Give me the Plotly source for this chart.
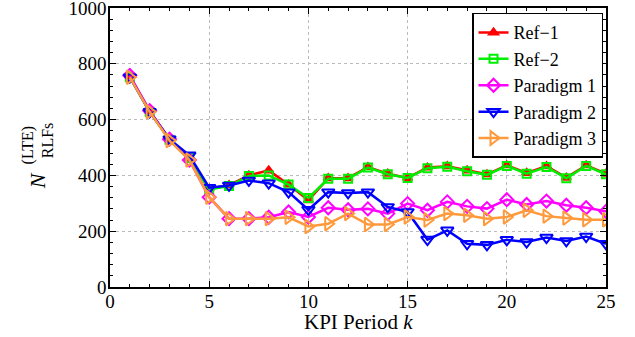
import plotly.graph_objects as go

k = list(range(1, 26))
ref1 = [755, 630, 528, 460, 352, 365, 400, 418, 367, 311, 390, 390, 430, 406, 391, 428, 433, 418, 404, 436, 409, 433, 392, 436, 406]
ref2 = [752, 628, 528, 462, 350, 362, 398, 400, 367, 319, 388, 388, 428, 404, 391, 426, 431, 415, 402, 434, 406, 430, 390, 434, 404]
par1 = [758, 632, 530, 455, 322, 245, 245, 250, 269, 251, 284, 277, 280, 263, 299, 275, 305, 289, 281, 313, 296, 308, 293, 284, 271]
par2 = [752, 628, 530, 472, 356, 364, 382, 372, 340, 277, 340, 337, 340, 287, 269, 170, 203, 155, 151, 169, 161, 177, 165, 181, 155]
par3 = [752, 628, 525, 455, 322, 245, 245, 245, 250, 217, 227, 263, 224, 224, 251, 240, 263, 257, 245, 251, 275, 254, 247, 241, 241]
x_ticks = [0, 5, 10, 15, 20, 25]
y_ticks = [0, 200, 400, 600, 800, 1000]

names = ["Ref−1", "Ref−2", "Paradigm 1", "Paradigm 2", "Paradigm 3"]
series = [ref1, ref2, par1, par2, par3]
colors = ["#FF0000", "#00EE00", "#FF00FF", "#0000FF", "#FF9A3C"]
symbols = ["triangle-up", "square-open", "diamond-open", "triangle-down-open", "triangle-right-open"]
sizes = [8, 8, 10, 11, 12]

FONT = "Liberation Serif"
fig = go.Figure()
for name, y, c, s, sz in zip(names, series, colors, symbols, sizes):
    fig.add_trace(go.Scatter(
        x=k, y=y, name=name, mode="lines+markers",
        line=dict(color=c, width=2.5),
        marker=dict(symbol=s, size=sz, color=c, line=dict(color=c, width=2)),
    ))

axis_common = dict(
    showline=True, linecolor="black", linewidth=1.5, mirror="ticks",
    ticks="inside", ticklen=6, tickcolor="black", tickwidth=1,
    showgrid=True, gridcolor="#bbbbbb", griddash="dot", gridwidth=1,
    zeroline=False, automargin=False, ticklabeloverflow="allow",
    tickfont=dict(family=FONT, size=19, color="black"),
)
fig.update_xaxes(range=[0, 25], tickmode="array", tickvals=x_ticks, ticklabelstandoff=-4,
                 minor=dict(dtick=1, tick0=0, ticks="inside", ticklen=3, tickcolor="black", showgrid=False),
                 **axis_common)
fig.update_yaxes(range=[0, 1000], tickmode="array", tickvals=y_ticks, ticklabelstandoff=-2,
                 minor=dict(dtick=40, tick0=0, ticks="inside", ticklen=3, tickcolor="black", showgrid=False),
                 **axis_common)

ann = dict(xref="paper", yref="paper", showarrow=False, xanchor="center", yanchor="middle")
fig.add_annotation(text="KPI Period <i>k</i>", x=0.5, y=-0.125,
                   font=dict(family=FONT, size=21, color="black"), **ann)
fig.add_annotation(text="<i>N</i>", x=-0.147, y=0.379, textangle=-90,
                   font=dict(family=FONT, size=22, color="black"), **ann)
fig.add_annotation(text="(LTE)", x=-0.165, y=0.508, textangle=-90,
                   font=dict(family=FONT, size=16, color="black"), **ann)
fig.add_annotation(text="RLFs", x=-0.127, y=0.526, textangle=-90,
                   font=dict(family=FONT, size=16, color="black"), **ann)

fig.update_layout(
    width=635, height=337,
    margin=dict(l=110, r=29, t=8, b=50, autoexpand=False),
    paper_bgcolor="white", plot_bgcolor="white",
    showlegend=True,
    legend=dict(x=0.994, y=0.983, xanchor="right", yanchor="top",
                bgcolor="white", bordercolor="black", borderwidth=1.5,
                font=dict(family=FONT, size=18, color="black"),
                itemwidth=30, tracegroupgap=0),
    font=dict(family=FONT),
)

fig.write_html("out.html", config={"displayModeBar": False},
               post_script="document.body.style.margin='0';document.body.style.overflow='hidden';")
